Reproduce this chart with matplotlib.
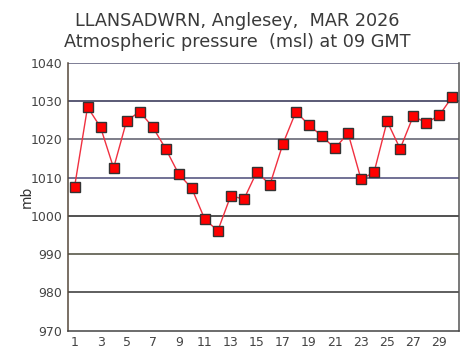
import numpy as np
import matplotlib
matplotlib.use('Agg')
import matplotlib.pyplot as plt

# Daily 09 GMT pressure readings (mb), March 2026
days = list(range(1, 31))
pressure = [1007.5, 1028.4, 1023.1, 1012.5, 1024.8, 1027.2, 1023.2, 1017.5, 1010.9, 1007.2,
            999.1, 996.1, 1005.3, 1004.3, 1011.5, 1008.1, 1018.8, 1027.2, 1023.7, 1020.8,
            1017.6, 1021.6, 1009.5, 1011.4, 1024.7, 1017.5, 1026.0, 1024.3, 1026.2, 1031.1]
y_ticks = [970, 980, 990, 1000, 1010, 1020, 1030, 1040]
x_ticks = list(range(1, 30, 2))

fig = plt.figure(figsize=(4.71, 3.58), dpi=100)
ax = fig.add_axes([0.1444, 0.0763, 0.8296, 0.7487])

# horizontal grid lines
grid_colors = {1040: '#5a5a78', 1030: '#2e2e50', 1020: '#5a5a6a', 1010: '#4a4a78',
               1000: '#222222', 990: '#4a4a3a', 980: '#333333'}
for v, c in grid_colors.items():
    ax.axhline(v, color=c, linewidth=1.1, zorder=1)

ax.plot(days, pressure, color='#f03040', linewidth=1.0, zorder=2,
        marker='s', markersize=7, markerfacecolor='#ff0000',
        markeredgecolor='#333333', markeredgewidth=1.0)

ax.set_xlim(0.5, 30.5)
ax.set_ylim(970, 1040)
ax.set_xticks(x_ticks)
ax.set_yticks(y_ticks)
ax.tick_params(length=0, labelsize=9, labelcolor='#444444', pad=4)
ax.set_ylabel('mb', fontsize=10, color='#333333', labelpad=-2)

ax.spines['left'].set_color('#55483a')
ax.spines['bottom'].set_color('#444444')
ax.spines['right'].set_color('#555555')
ax.spines['top'].set_visible(False)
for s in ['left', 'bottom', 'right']:
    ax.spines[s].set_linewidth(1.1)

fig.text(0.503, 0.94, 'LLANSADWRN, Anglesey,  MAR 2026', ha='center', va='center',
         fontsize=12.7, color='#3a3a3a')
fig.text(0.503, 0.884, 'Atmospheric pressure  (msl) at 09 GMT', ha='center', va='center',
         fontsize=12.7, color='#3a3a3a')

fig.savefig('out.png', dpi=100)
